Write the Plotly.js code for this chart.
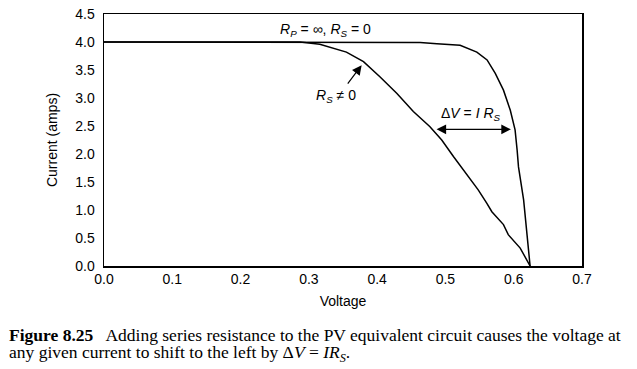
<!DOCTYPE html>
<html>
<head>
<meta charset="utf-8">
<script src="https://cdn.plot.ly/plotly-3.0.1.min.js"></script>
<style>html,body{margin:0;padding:0;background:#fff;}#chart{width:637px;height:369px;}</style>
</head>
<body>
<div id="chart"></div>
<script>
// R_P = ∞, R_S = 0 curve
const vIdeal = [0.0, 0.30, 0.463, 0.4875, 0.5215, 0.546, 0.561, 0.573, 0.585, 0.595, 0.602, 0.605, 0.607, 0.6145, 0.6195, 0.624];
const iIdeal = [4.0, 4.0, 3.99, 3.97, 3.94, 3.82, 3.68, 3.44, 3.14, 2.78, 2.43, 2.07, 1.77, 1.18, 0.59, 0.0];
// R_S ≠ 0 curve
const vSeries = [0.0, 0.287, 0.316, 0.355, 0.380, 0.404, 0.429, 0.453, 0.477, 0.4946, 0.512, 0.5263, 0.548, 0.5607, 0.568, 0.585, 0.592, 0.6095, 0.624];
const iSeries = [4.0, 4.0, 3.96, 3.82, 3.65, 3.38, 3.08, 2.76, 2.49, 2.25, 1.95, 1.72, 1.36, 1.12, 0.97, 0.74, 0.56, 0.32, 0.0];
const xTicks = [0, 0.1, 0.2, 0.3, 0.4, 0.5, 0.6, 0.7];
const yTicks = [0, 0.5, 1.0, 1.5, 2.0, 2.5, 3.0, 3.5, 4.0, 4.5];
const xTitle = 'Voltage';
const yTitle = 'Current (amps)';
const labelIdeal = '<i>R</i><sub><i>P</i></sub> = ∞, <i>R</i><sub><i>S</i></sub> = 0';
const labelSeries = '<i>R</i><sub><i>S</i></sub> ≠ 0';
const labelDelta = 'Δ<i>V</i> = <i>I R</i><sub><i>S</i></sub>';
const caption1 = '<b>Figure 8.25</b>   Adding series resistance to the PV equivalent circuit causes the voltage at';
const caption2 = 'any given current to shift to the left by Δ<i>V</i> = <i>IR</i><sub><i>S</i></sub>.';

const W = 637, H = 369, ML = 104, MR = 55, MT = 14, MB = 103;
const plotW = W - ML - MR, plotH = H - MT - MB;
const px2paperX = px => (px - ML) / plotW;
const px2paperY = py => (H - MB - py) / plotH;

const lineStyle = {color: '#000', width: 1.5};
const traces = [
  {x: vIdeal, y: iIdeal, mode: 'lines', line: lineStyle, hoverinfo: 'skip'},
  {x: vSeries, y: iSeries, mode: 'lines', line: lineStyle, hoverinfo: 'skip'}
];
const sans = 'Liberation Sans, Arial, sans-serif';
const serif = 'Liberation Serif, Times New Roman, serif';
const layout = {
  width: W, height: H,
  margin: {l: ML, r: MR, t: MT, b: MB},
  paper_bgcolor: '#fff', plot_bgcolor: '#fff',
  showlegend: false,
  font: {family: sans, size: 14, color: '#000'},
  xaxis: {range: [0, 0.7], tickvals: xTicks, tickformat: '.1f', showgrid: false, zeroline: false,
    showline: true, mirror: true, linecolor: '#000', linewidth: 1.5, ticks: '', ticklabelstandoff: 0,
    title: {text: xTitle, font: {size: 14}, standoff: 10}},
  yaxis: {range: [0, 4.5], tickvals: yTicks, tickformat: '.1f', showgrid: false, zeroline: false,
    showline: true, mirror: true, linecolor: '#000', linewidth: 1.5, ticks: '', ticklabelstandoff: 5,
    title: {text: yTitle, font: {size: 14}, standoff: 14}},
  annotations: [
    {x: 0.325, y: 4.0, xref: 'x', yref: 'y', text: labelIdeal, showarrow: false, yanchor: 'bottom', yshift: 1, font: {size: 14}},
    {x: 0.3773, y: 3.586, xref: 'x', yref: 'y', text: '', showarrow: true, ax: -15, ay: 20,
      arrowhead: 2, arrowsize: 1.6, arrowwidth: 1.2, arrowcolor: '#000'},
    {x: 0.340, y: 3.03, xref: 'x', yref: 'y', text: labelSeries, showarrow: false, font: {size: 14}},
    {x: 0.5959, y: 2.44, xref: 'x', yref: 'y', ax: 0.4848, ay: 2.44, axref: 'x', ayref: 'y', text: '',
      showarrow: true, arrowside: 'end+start', arrowhead: 2, startarrowhead: 2, arrowsize: 1.6, startarrowsize: 1.6,
      arrowwidth: 1.2, arrowcolor: '#000'},
    {x: 0.537, y: 2.72, xref: 'x', yref: 'y', text: labelDelta, showarrow: false, font: {size: 14}},
    {x: px2paperX(7), y: px2paperY(335), xref: 'paper', yref: 'paper', xanchor: 'left', yanchor: 'middle',
      text: caption1, showarrow: false, font: {family: serif, size: 17.5}},
    {x: px2paperX(7), y: px2paperY(353), xref: 'paper', yref: 'paper', xanchor: 'left', yanchor: 'middle',
      text: caption2, showarrow: false, font: {family: serif, size: 17.5}}
  ]
};
Plotly.newPlot('chart', traces, layout, {staticPlot: true, displayModeBar: false});
</script>
</body>
</html>
